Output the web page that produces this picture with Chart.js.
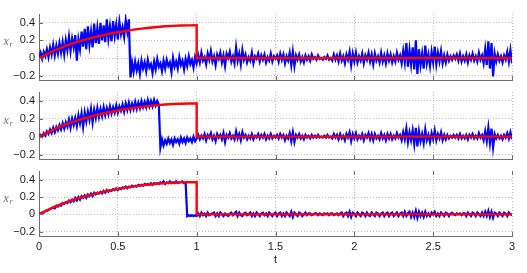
<!DOCTYPE html>
<html><head><meta charset="utf-8">
<script src="https://cdn.jsdelivr.net/npm/chart.js@4/dist/chart.umd.min.js"></script>
<style>
html,body{margin:0;padding:0;background:#fff;}
#wrap{position:relative;width:527px;height:273px;}
canvas{position:absolute;left:0;top:0;}
</style></head><body>
<div id="wrap">
<canvas id="c1" width="527" height="273"></canvas>
<canvas id="c2" width="527" height="273"></canvas>
<canvas id="c3" width="527" height="273"></canvas>
</div>
<script>
// sample spacing of the blue series (t = index * tStep)
const tStep = 0.01;
const xTicks = [0, 0.5, 1, 1.5, 2, 2.5, 3];
const yTicks = [-0.2, 0, 0.2, 0.4];
const yLabel = 'x';
const yLabelSub = 'r';
const xLabel = 't';

// reference (red)
const redT = [0,0.05,0.1,0.15,0.2,0.25,0.3,0.35,0.4,0.45,0.5,0.55,0.6,0.65,0.7,0.75,0.8,0.85,0.9,0.95,1.0,1.0,3.0];
const redY = [0,0.045,0.088,0.124,0.157,0.186,0.212,0.236,0.257,0.276,0.293,0.308,0.322,0.334,0.344,0.353,0.360,0.365,0.369,0.371,0.372,0,0];

// panel 1 (blue)
const blue1 = [
0.00,0.06,-0.01,0.07,0.02,0.10,0.01,0.12,0.04,0.15,
0.03,0.14,0.05,0.17,0.06,0.18,0.04,0.20,0.09,0.24,
0.08,0.22,0.12,0.26,-0.03,0.21,0.10,0.30,0.13,0.33,
0.10,0.36,0.15,0.30,0.12,0.39,0.17,0.34,0.16,0.40,
0.20,0.37,0.18,0.44,0.22,0.36,0.19,0.42,0.25,0.38,
0.21,0.41,0.27,0.35,0.24,0.43,0.30,0.44,-0.22,-0.05,
-0.16,-0.04,-0.14,-0.06,-0.18,-0.03,-0.12,-0.05,-0.15,-0.02,
-0.11,-0.07,-0.17,-0.04,-0.13,-0.01,-0.10,-0.06,-0.15,-0.03,
-0.12,-0.02,-0.09,-0.05,-0.16,0.00,-0.10,-0.04,-0.12,0.01,
-0.08,-0.03,-0.13,-0.01,-0.09,0.02,-0.07,-0.02,-0.11,0.01,
-0.06,0.03,-0.05,0.06,-0.03,0.01,-0.07,0.05,-0.02,0.08,
-0.04,0.02,-0.08,0.04,-0.01,0.06,-0.05,0.03,-0.09,0.05,
0.00,0.07,-0.04,0.02,-0.06,0.12,-0.03,0.05,-0.07,0.09,
-0.02,0.04,-0.05,0.01,-0.03,0.06,-0.06,0.02,-0.01,0.05,
-0.04,0.03,-0.02,0.04,-0.05,0.01,-0.03,0.05,-0.04,0.02,
-0.01,0.03,-0.04,0.05,-0.02,0.04,-0.06,0.02,-0.03,0.06,
-0.08,0.07,-0.09,0.03,-0.02,0.04,-0.04,0.01,-0.05,0.03,
-0.02,0.02,-0.03,0.04,-0.01,0.01,-0.02,0.03,-0.01,0.00,
-0.02,0.01,-0.01,0.03,-0.02,0.00,-0.03,0.04,-0.02,0.03,
-0.04,0.05,-0.03,0.02,-0.06,0.04,-0.02,0.07,-0.08,0.05,
-0.04,0.06,-0.05,0.02,-0.03,0.05,-0.06,0.03,-0.02,0.06,
-0.04,0.04,-0.07,0.05,-0.03,0.02,-0.05,0.06,-0.04,0.03,
-0.06,0.05,-0.03,0.04,-0.05,0.02,-0.04,0.06,-0.02,0.03,
-0.06,0.08,-0.05,0.17,-0.10,0.09,-0.07,0.12,-0.13,0.20,
-0.18,0.10,-0.08,0.05,-0.12,0.14,-0.06,0.04,-0.09,0.07,
-0.05,0.13,-0.07,0.06,-0.04,0.08,-0.06,0.03,-0.05,0.04,
-0.03,0.02,-0.02,0.03,-0.01,0.04,-0.03,0.05,-0.04,0.02,
-0.03,0.04,-0.05,0.03,-0.02,0.05,-0.03,0.02,-0.04,0.06,
-0.02,0.03,-0.06,0.10,-0.08,0.19,-0.12,0.17,-0.21,0.05,
-0.04,0.04,-0.03,0.02,-0.05,0.03,-0.02,0.07,-0.04,0.09,
-0.06];

// panel 2 (blue)
const blue2 = [
0.00,0.02,0.00,0.04,0.01,0.06,0.03,0.08,0.04,0.10,
0.05,0.11,0.07,0.13,0.08,0.15,0.09,0.16,0.11,0.19,
0.10,0.20,0.13,0.21,0.12,0.24,0.15,0.26,0.11,0.27,
0.17,0.28,0.19,0.31,0.16,0.30,0.21,0.32,0.22,0.31,
0.23,0.33,0.24,0.32,0.25,0.34,0.26,0.33,0.27,0.35,
0.27,0.34,0.29,0.36,0.28,0.37,0.30,0.38,0.30,0.37,
0.31,0.39,0.31,0.38,0.32,0.40,0.33,0.39,0.33,0.41,
0.34,0.40,0.34,0.41,0.35,0.40,0.36,-0.12,-0.03,-0.10,
-0.04,-0.08,-0.02,-0.07,-0.03,-0.09,-0.02,-0.06,-0.03,-0.08,
-0.01,-0.06,-0.02,-0.07,-0.01,-0.05,-0.02,-0.06,0.00,-0.05,
-0.02,0.02,-0.03,0.01,-0.02,0.03,-0.04,0.02,-0.01,0.04,
-0.03,0.01,-0.05,0.03,-0.01,0.02,-0.03,0.04,-0.06,0.02,
-0.01,0.04,-0.02,0.01,-0.03,0.06,-0.02,0.03,-0.04,0.05,
-0.01,0.02,-0.03,0.01,-0.02,0.03,-0.03,0.01,-0.01,0.03,
-0.02,0.02,-0.01,0.03,-0.03,0.01,-0.02,0.03,-0.02,0.01,
-0.01,0.02,-0.02,0.03,-0.01,0.02,-0.04,0.01,-0.02,0.04,
-0.05,0.05,-0.06,0.02,-0.01,0.03,-0.02,0.01,-0.03,0.02,
-0.01,0.01,-0.02,0.02,-0.01,0.01,-0.01,0.02,-0.01,0.00,
-0.01,0.01,-0.01,0.02,-0.01,0.00,-0.02,0.03,-0.01,0.02,
-0.03,0.03,-0.02,0.01,-0.04,0.03,-0.01,0.05,-0.05,0.03,
-0.02,0.04,-0.03,0.01,-0.02,0.03,-0.04,0.02,-0.01,0.04,
-0.03,0.03,-0.04,0.03,-0.02,0.01,-0.03,0.04,-0.02,0.02,
-0.04,0.03,-0.02,0.03,-0.03,0.01,-0.02,0.04,-0.01,0.02,
-0.04,0.05,-0.03,0.09,-0.06,0.05,-0.04,0.07,-0.08,0.10,
-0.11,0.06,-0.05,0.03,-0.07,0.08,-0.04,0.02,-0.06,0.04,
-0.03,0.07,-0.04,0.03,-0.02,0.05,-0.04,0.02,-0.03,0.02,
-0.02,0.01,-0.01,0.02,-0.01,0.02,-0.02,0.03,-0.02,0.01,
-0.02,0.02,-0.03,0.02,-0.01,0.03,-0.02,0.01,-0.02,0.04,
-0.01,0.02,-0.04,0.06,-0.05,0.10,-0.07,0.09,-0.12,0.03,
-0.02,0.02,-0.02,0.01,-0.03,0.02,-0.01,0.04,-0.02,0.05,
-0.03];

// panel 3 (blue)
const blue3 = [
0.00,0.01,0.02,0.02,0.04,0.04,0.05,0.06,0.07,0.08,
0.07,0.10,0.09,0.11,0.10,0.13,0.12,0.14,0.13,0.16,
0.14,0.17,0.15,0.19,0.16,0.20,0.17,0.21,0.19,0.22,
0.19,0.23,0.21,0.24,0.21,0.25,0.23,0.25,0.24,0.26,
0.24,0.27,0.25,0.28,0.26,0.28,0.27,0.29,0.28,0.30,
0.28,0.30,0.29,0.31,0.30,0.32,0.30,0.32,0.31,0.33,
0.32,0.33,0.32,0.34,0.33,0.34,0.33,0.35,0.34,0.35,
0.34,0.36,0.34,0.36,0.35,0.36,0.35,0.37,0.36,0.38,
0.35,0.37,0.36,0.38,0.36,0.37,0.36,0.38,0.36,0.37,
0.37,0.38,0.36,0.37,-0.02,-0.01,-0.02,-0.01,-0.02,-0.01,
-0.02,0.01,-0.02,0.02,-0.01,0.01,-0.02,0.02,-0.01,0.00,
0.01,0.02,-0.02,0.01,-0.02,0.02,0.00,-0.02,0.01,-0.01,
-0.02,0.01,0.02,-0.01,0.01,0.03,-0.02,0.02,-0.01,-0.02,
0.01,0.02,-0.01,0.00,0.02,-0.02,0.01,-0.02,0.02,0.00,
-0.02,0.01,0.02,-0.01,0.01,-0.02,0.02,0.00,-0.02,0.01,
0.02,-0.02,0.01,0.02,-0.02,0.01,-0.02,0.02,0.00,-0.02,
0.03,-0.03,0.02,0.00,-0.02,0.02,0.01,-0.02,0.00,0.02,
-0.01,0.01,0.01,-0.01,0.00,0.01,0.01,-0.01,0.01,0.00,
-0.01,0.01,0.00,0.01,-0.01,0.01,0.01,-0.01,0.00,0.01,
-0.01,0.01,0.02,-0.02,0.01,0.02,-0.02,0.03,-0.03,0.02,
0.01,-0.02,0.02,0.00,-0.02,0.02,0.01,-0.02,0.02,-0.01,
-0.02,0.02,0.00,-0.02,0.02,0.01,-0.02,0.01,0.02,-0.02,
0.01,0.02,-0.02,0.01,0.02,-0.02,0.00,0.02,-0.02,0.01,
0.02,-0.02,0.03,-0.02,0.01,0.03,-0.03,0.02,-0.03,0.04,
-0.04,0.03,-0.02,0.02,-0.03,0.03,-0.02,0.01,-0.02,0.02,
0.00,0.03,-0.02,0.01,-0.02,0.02,0.00,-0.02,0.02,0.01,
-0.02,0.01,0.02,0.00,-0.01,0.01,0.00,0.01,-0.01,0.01,
0.01,-0.02,0.02,0.00,-0.02,0.02,0.01,-0.02,0.02,0.00,
-0.02,0.02,-0.02,0.03,-0.02,0.04,-0.03,0.03,-0.04,0.02,
0.01,-0.02,0.02,0.00,-0.02,0.02,0.01,-0.02,0.02,0.00,
-0.01];

const FONT = '"Liberation Sans", Arial, Helvetica, sans-serif';
const AXIS = '#6e6e6e';

const decor = {
  id: 'decor',
  afterDraw(chart, args, opts) {
    const {ctx, chartArea: a} = chart;
    const xs = chart.scales.x, ys = chart.scales.y;
    ctx.save();
    ctx.strokeStyle = AXIS;
    ctx.lineWidth = 1;
    ctx.beginPath();
    xTicks.forEach(v => {
      const px = Math.round(xs.getPixelForValue(v)) + 0.5;
      ctx.moveTo(px, a.bottom); ctx.lineTo(px, a.bottom - 4);
      if (opts.top) { ctx.moveTo(px, a.top); ctx.lineTo(px, a.top + 4); }
    });
    yTicks.forEach(v => {
      const py = Math.round(ys.getPixelForValue(v)) + 0.5;
      ctx.moveTo(a.left, py); ctx.lineTo(a.left + 4, py);
    });
    ctx.stroke();
    const cy = (a.top + a.bottom) / 2 - 5;
    ctx.fillStyle = '#707070';
    ctx.textAlign = 'left';
    ctx.textBaseline = 'middle';
    ctx.font = 'italic 12px "Liberation Serif", "DejaVu Serif", serif';
    ctx.fillText(yLabel, 3.5, cy);
    ctx.font = 'italic 8px "Liberation Serif", "DejaVu Serif", serif';
    ctx.fillText(yLabelSub, 9.5, cy + 3);
    ctx.restore();
  }
};

function fmt(v) {
  if (v === 0) return '0';
  return (v < 0 ? '\u2212' : '') + String(Math.abs(v));
}

function makeChart(id, blue, padTop, padBottom, showX, topTicks) {
  const bluePts = blue.map((v, i) => ({x: +(i * tStep).toFixed(2), y: v}));
  const redPts = redT.map((t, i) => ({x: t, y: redY[i]}));
  return new Chart(document.getElementById(id), {
    type: 'line',
    data: {datasets: [
      {data: redPts, borderColor: '#ff0000', borderWidth: 2.4, pointRadius: 0, tension: 0, order: 0},
      {data: bluePts, borderColor: '#0000ff', borderWidth: 2.2, pointRadius: 0, tension: 0, order: 1}
    ]},
    options: {
      responsive: false, animation: false, devicePixelRatio: 1,
      layout: {padding: {left: 0, right: 15, top: padTop, bottom: padBottom}},
      plugins: {legend: {display: false}, tooltip: {enabled: false}, decor: {top: topTicks}},
      scales: {
        x: {
          type: 'linear', min: 0, max: 3,
          afterBuildTicks: s => { s.ticks = xTicks.map(v => ({value: v})); },
          afterFit: s => { s.height = showX ? 31 : 0; },
          grid: {color: '#bdbdbd', drawTicks: false, lineWidth: 1},
          border: {color: AXIS, width: 1, dash: [1, 2]},
          ticks: {display: showX, padding: 4, color: '#1a1a1a', autoSkip: false, maxRotation: 0,
                  font: {family: FONT, size: 11}, callback: v => fmt(v)},
          title: {display: showX, text: xLabel, padding: 0, color: '#1a1a1a', font: {family: FONT, size: 11}}
        },
        y: {
          min: -0.25, max: 0.5,
          afterBuildTicks: s => { s.ticks = yTicks.map(v => ({value: v})); },
          afterFit: s => { s.width = 39; },
          grid: {color: '#bdbdbd', drawTicks: false, lineWidth: 1},
          border: {color: AXIS, width: 1, dash: [1, 2]},
          ticks: {padding: 4, color: '#1a1a1a', font: {family: FONT, size: 11}, callback: v => fmt(v)}
        }
      }
    },
    plugins: [decor]
  });
}

makeChart('c1', blue1, 14, 193, false, false);
makeChart('c2', blue2, 92, 114, false, false);
makeChart('c3', blue3, 171, 6, true, true);
</script>
</body></html>
